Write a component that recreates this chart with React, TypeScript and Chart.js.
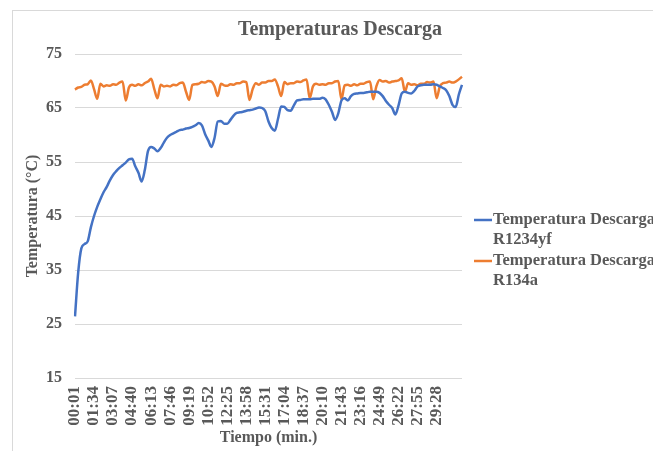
import React, { useEffect, useRef } from "react";
import { Chart, registerables } from "chart.js";

Chart.register(...registerables);

// ---- data ----
const START_SECONDS = 1;
const STEP_SECONDS = 15.5;

const VISIBLE_TICKS = [
  "00:01", "01:34", "03:07", "04:40", "06:13", "07:46", "09:19", "10:52", "12:25", "13:58",
  "15:31", "17:04", "18:37", "20:10", "21:43", "23:16", "24:49", "26:22", "27:55", "29:28",
];

const R1234YF = [
  26.4, 34.5, 39.0, 39.8, 40.3, 42.9, 45.0, 46.7, 48.1, 49.4,
  50.4, 51.6, 52.6, 53.3, 53.9, 54.4, 54.9, 55.5, 55.6, 54.2,
  53.0, 51.4, 53.5, 57.0, 57.8, 57.5, 57.0, 57.6, 58.6, 59.5,
  60.0, 60.3, 60.6, 60.9, 61.0, 61.2, 61.3, 61.5, 61.8, 62.2,
  61.8, 60.2, 59.0, 57.8, 59.5, 62.5, 62.6, 62.1, 62.1, 62.8,
  63.6, 64.1, 64.2, 64.3, 64.5, 64.6, 64.7, 64.9, 65.1, 65.0,
  64.4, 62.5, 61.3, 60.8, 63.0, 65.3, 65.2, 64.6, 64.5, 65.5,
  66.4, 66.5, 66.6, 66.6, 66.6, 66.7, 66.7, 66.7, 66.9, 66.6,
  65.6, 64.3, 62.8, 64.0, 66.4, 66.8, 66.4, 67.2, 67.6, 67.7,
  67.8, 67.8, 67.9, 68.0, 68.0, 68.0, 67.8, 67.2, 66.3, 65.6,
  65.0, 63.8, 65.5, 67.7, 68.0, 67.8, 67.7, 68.2, 69.0, 69.2,
  69.3, 69.3, 69.3, 69.4, 69.3, 69.0, 68.7, 68.3, 67.2, 65.6,
  65.2, 67.5, 69.3,
];

const R134A = [
  68.4, 68.8, 68.9, 69.3, 69.4, 70.1, 68.5, 66.7, 69.5, 69.0,
  69.2, 69.1, 69.4, 69.3, 69.7, 69.9, 66.4, 68.8, 69.3, 69.1,
  69.4, 69.2, 69.6, 69.9, 70.4, 68.5, 66.8, 69.3, 69.0, 69.1,
  69.0, 69.3, 69.2, 69.6, 69.7, 68.0, 66.5, 69.3, 69.4, 69.5,
  69.8, 69.7, 70.0, 69.9, 69.0, 67.2, 69.5, 69.2, 69.1, 69.4,
  69.3, 69.6, 69.6, 69.9, 69.8, 66.5, 68.5, 69.6, 69.3, 69.7,
  69.7, 70.0, 70.0, 70.3, 69.0, 67.2, 69.8, 69.4, 69.6, 69.6,
  69.9, 69.8, 70.1, 70.3, 66.8, 69.0, 69.5, 69.3, 69.4, 69.3,
  69.6, 69.6, 69.9, 70.0, 66.6, 69.2, 69.3, 69.1, 69.4, 69.2,
  69.5, 69.5, 69.8, 69.9, 66.6, 69.0, 70.2, 69.9, 70.0, 69.7,
  69.9, 70.0, 70.1, 70.5, 68.0, 69.6, 69.3, 69.4, 69.2, 69.5,
  69.5, 69.8, 69.7, 69.9, 66.8, 69.0, 69.6, 69.7, 69.9, 69.7,
  69.9, 70.3, 70.8,
];

const SERIES_NAMES = [
  ["Temperatura Descarga", "R1234yf"],
  ["Temperatura Descarga", "R134a"],
];

const Y_MIN = 15;
const Y_MAX = 75;
const Y_STEP = 10;

const TITLE = "Temperaturas Descarga";
const X_TITLE = "Tiempo (min.)";
const Y_TITLE = "Temperatura (°C)";

const pad2 = (n: number) => String(n).padStart(2, "0");
const TIME_LABELS: string[] = R1234YF.map((_, k) => {
  const s = Math.floor(START_SECONDS + k * STEP_SECONDS);
  return `${pad2(Math.floor(s / 60))}:${pad2(s % 60)}`;
});

// ---- styles ----
const FONT = '"Liberation Serif", "Times New Roman", serif';
const TEXT = "#595959";
const GRID = "#d9d9d9";
const BLUE = "#4472C4";
const ORANGE = "#ED7D31";

const decor = {
  id: "decor",
  beforeDraw(chart: any) {
    const ctx = chart.ctx;
    ctx.save();
    ctx.strokeStyle = GRID;
    ctx.lineWidth = 1;
    ctx.strokeRect(12.5, 10.5, 900, 700);
    ctx.restore();
  },
  afterDraw(chart: any) {
    const { ctx, chartArea } = chart;
    ctx.save();
    ctx.fillStyle = TEXT;
    ctx.font = `bold 20px ${FONT}`;
    ctx.textAlign = "center";
    ctx.textBaseline = "middle";
    ctx.fillText(TITLE, 340, 30);

    ctx.font = `bold 16.5px ${FONT}`;
    ctx.textAlign = "left";
    const x = chartArea.right + 12;
    chart.data.datasets.forEach((ds: any, i: number) => {
      const y = chartArea.top + 166 + i * 41;
      ctx.strokeStyle = ds.borderColor;
      ctx.lineWidth = 2.5;
      ctx.beginPath();
      ctx.moveTo(x, y);
      ctx.lineTo(x + 18, y);
      ctx.stroke();
      SERIES_NAMES[i].forEach((line, j) => {
        ctx.fillText(line, x + 19, y + j * 19.5);
      });
    });
    ctx.restore();
  },
};

export default function App() {
  const ref = useRef<HTMLCanvasElement | null>(null);

  useEffect(() => {
    if (!ref.current) return;
    const tickFont = { family: FONT, size: 16, weight: "bold" as const };
    const xTickFont = { family: FONT, size: 17, weight: "bold" as const };
    const chart = new Chart(ref.current, {
      type: "line",
      data: {
        labels: TIME_LABELS,
        datasets: [
          {
            label: SERIES_NAMES[0].join(" "),
            data: R1234YF,
            borderColor: BLUE,
            backgroundColor: BLUE,
            borderWidth: 2.5,
            pointRadius: 0,
            cubicInterpolationMode: "monotone",
          },
          {
            label: SERIES_NAMES[1].join(" "),
            data: R134A,
            borderColor: ORANGE,
            backgroundColor: ORANGE,
            borderWidth: 2.5,
            pointRadius: 0,
            cubicInterpolationMode: "monotone",
          },
        ],
      },
      options: {
        responsive: false,
        animation: false,
        devicePixelRatio: 1,
        layout: { padding: { left: 12, right: 191, top: 54, bottom: 0 } },
        plugins: {
          legend: { display: false },
          title: { display: false },
          tooltip: { enabled: false },
        },
        scales: {
          x: {
            offset: false,
            grid: { display: false, drawTicks: false },
            border: { display: false },
            ticks: {
              autoSkip: false,
              minRotation: 90,
              maxRotation: 90,
              padding: 8,
              color: TEXT,
              font: xTickFont,
              callback: (_v: any, i: number) =>
                VISIBLE_TICKS.includes(TIME_LABELS[i]) ? TIME_LABELS[i] : "",
            },
            title: {
              display: true,
              text: X_TITLE,
              color: TEXT,
              font: tickFont,
              padding: { top: 0, bottom: 4 },
            },
            afterFit(scale: any) {
              scale.height = 73;
            },
          },
          y: {
            min: Y_MIN,
            max: Y_MAX,
            grid: { color: GRID, drawTicks: false, lineWidth: 1 },
            border: { display: false },
            ticks: {
              stepSize: Y_STEP,
              padding: 13,
              color: TEXT,
              font: tickFont,
            },
            title: {
              display: true,
              text: Y_TITLE,
              color: TEXT,
              font: tickFont,
              padding: { top: 11, bottom: 0 },
            },
            afterFit(scale: any) {
              scale.width = 63;
            },
          },
        },
      },
      plugins: [decor],
    });
    return () => chart.destroy();
  }, []);

  return (
    <div style={{ position: "absolute", left: 0, top: 0, width: 653, height: 451, overflow: "hidden", background: "#fff" }}>
      <canvas ref={ref} width={653} height={451} style={{ display: "block" }} />
    </div>
  );
}
